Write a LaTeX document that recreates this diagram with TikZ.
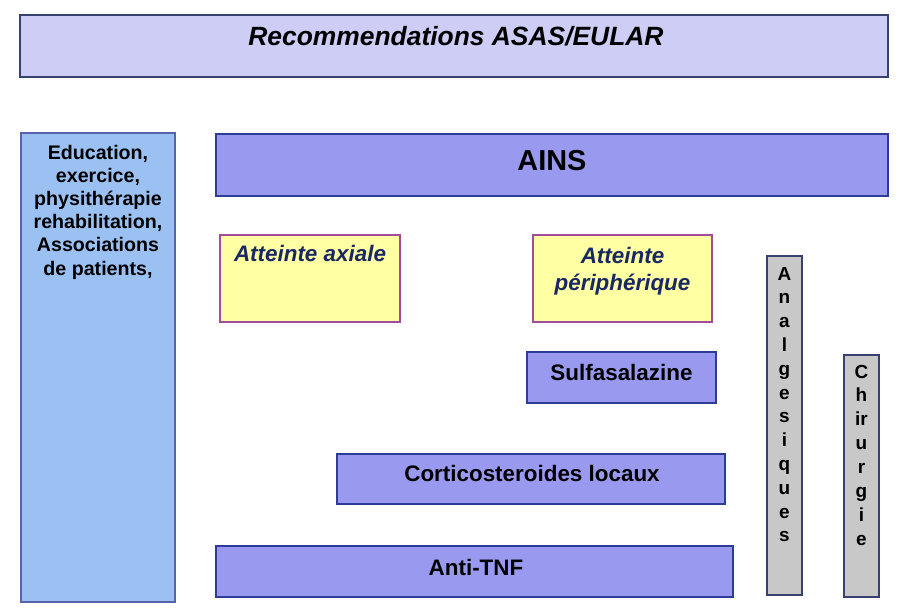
\documentclass[tikz,border=0pt]{standalone}
\usepackage{fontspec}
\setmainfont{Liberation Sans}
\definecolor{recTitle}{RGB}{205,205,245}
\definecolor{recEdge}{RGB}{55,65,110}
\definecolor{recSky}{RGB}{155,193,243}
\definecolor{recLav}{RGB}{153,153,240}
\definecolor{recBlue}{RGB}{45,60,150}
\definecolor{recYel}{RGB}{255,255,163}
\definecolor{recPurp}{RGB}{165,75,155}
\definecolor{recNavy}{RGB}{25,40,100}
\definecolor{recGrey}{RGB}{200,200,200}

\begin{document}
\begin{tikzpicture}[x=1bp,y=-1bp,
  panel/.style={draw=recBlue,fill=recLav,line width=1.2bp,inner sep=0pt},
  yelbox/.style={draw=recPurp,fill=recYel,line width=1.2bp,inner sep=0pt},
  greybox/.style={draw=recEdge,fill=recGrey,line width=1.2bp,inner sep=0pt},
  txt/.style={inner sep=0pt,anchor=base,font=\fontsize{22.5}{27}\selectfont\bfseries},
  ittxt/.style={txt,text=recNavy,font=\fontsize{22.5}{27}\selectfont\bfseries\itshape,align=center},
  letter/.style={inner sep=0pt,anchor=base,font=\fontsize{19}{23}\selectfont\bfseries}]
\useasboundingbox[fill=white] (0,0) rectangle (912,616);
% title band
\node[panel,draw=recEdge,fill=recTitle,minimum width=868bp,minimum height=62bp] (title) at (454,46) {};
\node[ittxt,text=black,font=\fontsize{26.5}{31}\selectfont\bfseries\itshape] (titleT) at (456,46) {Recommendations ASAS/EULAR};
% non drug measures (base = last line)
\node[panel,draw=recBlue!80,fill=recSky,minimum width=154bp,minimum height=469bp] (edu) at (98,367.5) {};
\node[txt,align=center,font=\fontsize{19.7}{23.2}\selectfont\bfseries] (eduT) at (98,275)
  {Education,\\exercice,\\physithérapie\\rehabilitation,\\Associations\\de patients,};
% AINS
\node[panel,minimum width=672bp,minimum height=62bp] (ains) at (552,165) {};
\node[txt,font=\fontsize{29}{34}\selectfont\bfseries] (ainsT) at (552,171) {AINS};
% axial / peripheral
\node[yelbox,minimum width=180bp,minimum height=87bp] (axi) at (310,278.5) {};
\node[ittxt] (axiT) at (310,262) {Atteinte axiale};
\node[yelbox,minimum width=179bp,minimum height=87bp] (peri) at (622.5,278.5) {};
\node[ittxt] (periT) at (622.5,290) {Atteinte\\périphérique};
% drugs
\node[panel,minimum width=189bp,minimum height=51bp] (sulfa) at (621.5,377.5) {};
\node[txt] (sulfaT) at (621.5,380) {Sulfasalazine};
\node[panel,minimum width=388bp,minimum height=50bp] (cortico) at (531,479) {};
\node[txt] (corticoT) at (532,481) {Corticosteroides locaux};
\node[panel,minimum width=517bp,minimum height=51bp] (tnf) at (474.5,571.5) {};
\node[txt] (tnfT) at (476,575) {Anti-TNF};
% vertical columns
\node[greybox,minimum width=35bp,minimum height=339bp] (analg) at (784.5,425.5) {};
\foreach \c [count=\i] in {A,n,a,l,g,e,s,i,q,u,e,s}
  \node[letter] (analg\i) at (784.5,{280+23.8*(\i-1)}) {\c};
\node[greybox,minimum width=35bp,minimum height=242bp] (chir) at (861.5,476) {};
\foreach \c [count=\i] in {C,h,ir,u,r,g,i,e}
  \node[letter] (chir\i) at (861.5,{378+23.9*(\i-1)}) {\c};
\end{tikzpicture}
\end{document}
